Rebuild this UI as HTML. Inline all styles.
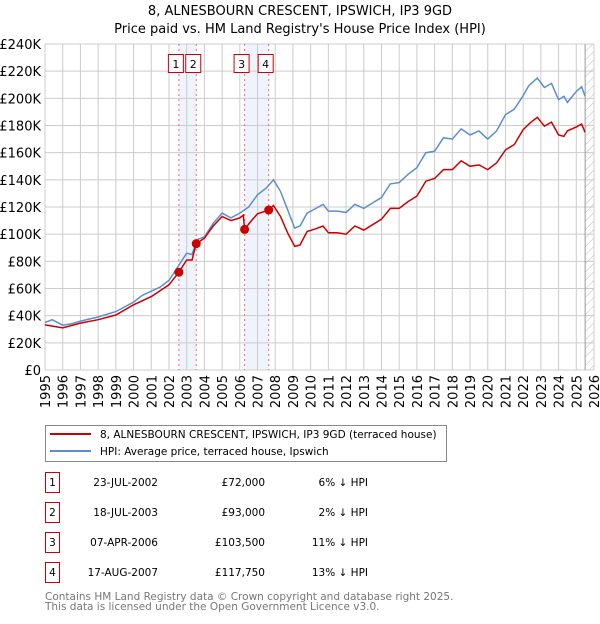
<!DOCTYPE html>
<html><head><meta charset="utf-8"><style>
body{margin:0;background:#fff;font-family:"DejaVu Sans","Liberation Sans",sans-serif;}
svg text{font-family:"DejaVu Sans","Liberation Sans",sans-serif;}
</style></head><body>
<svg id="chart" width="600" height="620" viewBox="0 0 600 620" xmlns="http://www.w3.org/2000/svg">
<defs><pattern id="hatch" patternUnits="userSpaceOnUse" width="6" height="6" patternTransform="rotate(45)"><line x1="0" y1="0" x2="0" y2="6" stroke="#bbb" stroke-width="1"/></pattern></defs>
<text x="300" y="15" text-anchor="middle" font-size="13">8, ALNESBOURN CRESCENT, IPSWICH, IP3 9GD</text>
<text x="300" y="33" text-anchor="middle" font-size="13">Price paid vs. HM Land Registry's House Price Index (HPI)</text>
<g id="plot"></g>
<g>
<rect x="45.5" y="425.5" width="401" height="36" fill="#fff" stroke="#888"/>
<line x1="50" y1="434" x2="91" y2="434" stroke="#cc0000" stroke-width="2"/>
<text x="100" y="438" font-size="10.5">8, ALNESBOURN CRESCENT, IPSWICH, IP3 9GD (terraced house)</text>
<line x1="50" y1="451" x2="91" y2="451" stroke="#5b8fd0" stroke-width="2"/>
<text x="100" y="455" font-size="10.5">HPI: Average price, terraced house, Ipswich</text>
</g>
<g id="table" font-size="10.5"></g>
<text x="45" y="600" font-size="10.5" fill="#777">Contains HM Land Registry data © Crown copyright and database right 2025.</text>
<text x="45" y="610" font-size="10.5" fill="#777">This data is licensed under the Open Government Licence v3.0.</text>
</svg>
<script>
const hpiYears=[1995,1995.4,1996,1996.5,1997,1998,1999,2000,2000.5,2001,2001.5,2002,2002.5,2003,2003.3,2003.6,2004,2004.5,2005,2005.5,2006,2006.5,2007,2007.5,2007.9,2008.3,2008.7,2009.1,2009.4,2009.8,2010.3,2010.7,2011,2011.5,2012,2012.5,2013,2013.5,2014,2014.5,2015,2015.5,2016,2016.5,2017,2017.5,2018,2018.5,2019,2019.5,2020,2020.5,2021,2021.5,2022,2022.3,2022.8,2023.2,2023.6,2024,2024.3,2024.5,2025,2025.3,2025.5];
const hpiValues=[35,37,33,34,36,39,43,50,55,58,61,66,76,86,85,96,98,108,115.5,112,115.5,120,129,134,140,131.5,118,104.5,106,115.5,119,122,117,117,116,122,119,123,127,137,138,144,149,160,161,171,170,177.5,173,176,170,176,188,192,202,209,215,208,211,199,201.5,197,205,208.5,201.5];
const redYears=[1995,1996,1997,1998,1999,2000,2001,2002,2002.56,2003,2003.3,2003.54,2004,2004.5,2005,2005.5,2006,2006.2,2006.27,2006.6,2007,2007.63,2007.9,2008.3,2008.7,2009.1,2009.4,2009.8,2010.3,2010.7,2011,2011.5,2012,2012.5,2013,2013.5,2014,2014.5,2015,2015.5,2016,2016.5,2017,2017.5,2018,2018.5,2019,2019.5,2020,2020.5,2021,2021.5,2022,2022.4,2022.8,2023.2,2023.6,2024,2024.3,2024.5,2025,2025.3,2025.5];
const redValues=[33.2,31,34.5,37,40.5,48,54,62.7,72,81,81,93,97,106,113,110,112,114,103.5,109,115,117.75,121,113,101,91,92,102,104,106,101,101,100,106,103,107,111,119,119,124,128,139,141,147.5,147.5,154,150,151,147.5,152.5,162,166,177,182,186,179.5,182.5,173,172,176,179,181,175];
const saleDates=[2002.56,2003.54,2006.27,2007.63];
const salePrices=[72,93,103.5,117.75];
const saleLabels=["1","2","3","4"];
const saleDateText=["23-JUL-2002","18-JUL-2003","07-APR-2006","17-AUG-2007"];
const salePriceText=["£72,000","£93,000","£103,500","£117,750"];
const saleDiffText=["6% ↓ HPI","2% ↓ HPI","11% ↓ HPI","13% ↓ HPI"];
const yTicks=[0,20,40,60,80,100,120,140,160,180,200,220,240];
const xTicks=[1995,1996,1997,1998,1999,2000,2001,2002,2003,2004,2005,2006,2007,2008,2009,2010,2011,2012,2013,2014,2015,2016,2017,2018,2019,2020,2021,2022,2023,2024,2025,2026];

const X0=45,X1=594,Y0=370,Y1=44;
const xs=y=>X0+(y-1995)/31*(X1-X0);
const ys=v=>Y0-v/240*(Y0-Y1);
const NS="http://www.w3.org/2000/svg";
const plot=document.getElementById('plot');
function mk(tag,attrs,parent,text){const e=document.createElementNS(NS,tag);for(const k in attrs)e.setAttribute(k,attrs[k]);if(text!==undefined)e.textContent=text;(parent||plot).appendChild(e);return e;}

for(let i=0;i<4;i+=2){
  const r=mk('rect',{x:xs(saleDates[i]),y:Y1,width:xs(saleDates[i+1])-xs(saleDates[i]),height:Y0-Y1,fill:'#eef3fc'});
  
  
}
yTicks.forEach(t=>{
  const l=mk('line',{x1:X0,x2:X1,y1:ys(t),y2:ys(t),stroke:'#cccccc','stroke-width':1});
  
  
  const tx=mk('text',{x:X0-4,y:ys(t)+5,'text-anchor':'end','font-size':13},plot,t===0?'£0':'£'+t+'K');
  
  
});
xTicks.forEach(t=>{
  const l=mk('line',{x1:xs(t),x2:xs(t),y1:Y1,y2:Y0,stroke:'#cccccc','stroke-width':1});
  
  
  const tx=mk('text',{x:0,y:0,'text-anchor':'end','font-size':13,transform:`translate(${xs(t)+5},${Y0+5}) rotate(-90)`},plot,String(t));
  
  
});
const h=mk('rect',{x:xs(2025.5),y:Y1,width:X1-xs(2025.5),height:Y0-Y1,fill:'url(#hatch)'});


const hl=mk('line',{x1:xs(2025.5),x2:xs(2025.5),y1:Y1,y2:Y0,stroke:'#999','stroke-width':1});


saleDates.forEach((d,i)=>{
  const l=mk('line',{x1:xs(d),x2:xs(d),y1:Y1,y2:Y0,stroke:'#ff6666','stroke-width':1,'stroke-dasharray':'2,3'});
  
  
  const cx=xs(d)-3;
  const b=mk('rect',{x:cx-7.5,y:54.5,width:15,height:18,fill:'#fff',stroke:'#cc0000'});
  
  
  const t=mk('text',{x:cx,y:68,'text-anchor':'middle','font-size':11},plot,saleLabels[i]);
  
  
});
const hp=mk('path',{d:hpiYears.map((y,i)=>(i?'L':'M')+xs(y).toFixed(1)+','+ys(hpiValues[i]).toFixed(1)).join(''),fill:'none',stroke:'#5b8fd0','stroke-width':1.5});


const rp=mk('path',{d:redYears.map((y,i)=>(i?'L':'M')+xs(y).toFixed(1)+','+ys(redValues[i]).toFixed(1)).join(''),fill:'none',stroke:'#cc0000','stroke-width':1.5});


saleDates.forEach((d,i)=>{
  const c=mk('circle',{cx:xs(d),cy:ys(salePrices[i]),r:4.5,fill:'#cc0000'});
  
  
});
const tb=document.getElementById('table');
saleLabels.forEach((s,i)=>{
  const y=483+i*30;
  const b=mk('rect',{x:45.5,y:y-10.5,width:14,height:20,fill:'#fff',stroke:'#cc0000'},tb);
  
  
  const t1=mk('text',{x:52.5,y:y+3,'text-anchor':'middle'},tb,s);
  
  
  const t2=mk('text',{x:158,y:y+3,'text-anchor':'end'},tb,saleDateText[i]);
  
  
  const t3=mk('text',{x:265,y:y+3,'text-anchor':'end'},tb,salePriceText[i]);
  
  
  const t4=mk('text',{x:368,y:y+3,'text-anchor':'end'},tb,saleDiffText[i]);
  
  
});
</script>
</body></html>
